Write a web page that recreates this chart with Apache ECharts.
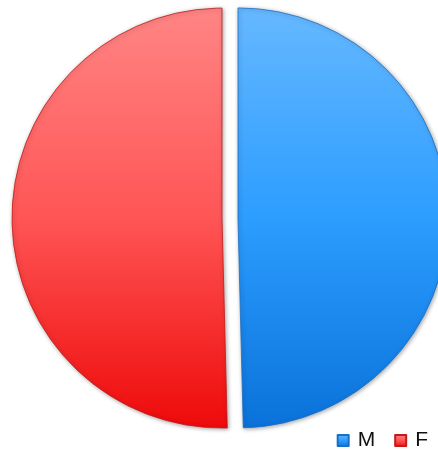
<!DOCTYPE html>
<html>
<head>
<meta charset="utf-8">
<style>
  html, body { margin: 0; padding: 0; background: #ffffff; }
  #chart { width: 438px; height: 450px; }
</style>
<script src="https://cdn.jsdelivr.net/npm/echarts@6/dist/echarts.min.js"></script>
</head>
<body>
<div id="chart"></div>
<script>
// Share of each group (percent)
const categories = ['M', 'F'];
const shares = [49.6, 50.4];

// Vertical gradients per slice: light top to saturated bottom
const gradients = {
  M: ['#66b8ff', '#2c9dff', '#0a72da'],
  F: ['#ff8585', '#ff5555', '#ee0a0a']
};
const rims = { M: '#1a6fc4', F: '#c41a1a' };

function fill(stops) {
  return new echarts.graphic.LinearGradient(0, 0, 0, 1, [
    { offset: 0, color: stops[0] },
    { offset: 0.5, color: stops[1] },
    { offset: 1, color: stops[2] }
  ]);
}

const chart = echarts.init(document.getElementById('chart'), null, { renderer: 'canvas' });

chart.setOption({
  animation: false,
  backgroundColor: '#ffffff',
  legend: {
    data: categories,
    right: 5,
    top: 425,
    itemWidth: 11,
    itemHeight: 11,
    itemGap: 19,
    icon: 'rect',
    selectedMode: false,
    textStyle: {
      fontFamily: 'Liberation Sans, Arial, sans-serif',
      fontSize: 21,
      color: '#111111',
      padding: [0, 0, 0, 4]
    }
  },
  series: [{
    type: 'pie',
    center: [230, 218],
    radius: 210,
    startAngle: 90,
    clockwise: true,
    selectedMode: 'multiple',
    selectedOffset: 8,
    label: { show: false },
    labelLine: { show: false },
    emphasis: { disabled: true },
    itemStyle: {
      borderWidth: 0.8,
      shadowBlur: 4,
      shadowOffsetX: 1,
      shadowOffsetY: 1,
      shadowColor: 'rgba(0,0,0,0.35)'
    },
    data: categories.map((name, i) => ({
      name: name,
      value: shares[i],
      selected: true,
      itemStyle: { color: fill(gradients[name]), borderColor: rims[name] }
    }))
  }]
});
</script>
</body>
</html>
